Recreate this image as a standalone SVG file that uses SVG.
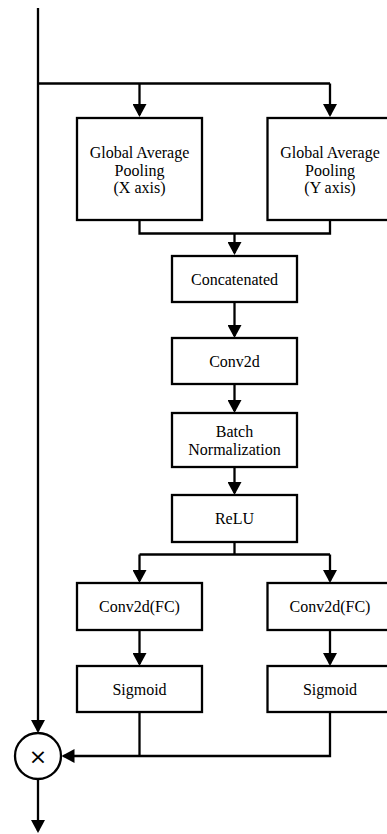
<svg xmlns="http://www.w3.org/2000/svg" width="387" height="834" viewBox="0 0 387 834">
  <style>
    .box { fill: #ffffff; stroke: #000000; stroke-width: 2.3; }
    .wire { fill: none; stroke: #000000; stroke-width: 2.3; }
    .lbl { font-family: "Liberation Serif", "Times New Roman", serif; font-size: 16px; fill: #000000; text-anchor: middle; }
    .op { font-family: "DejaVu Sans", "Liberation Sans", sans-serif; font-size: 22px; fill: #000000; text-anchor: middle; }
  </style>
  <defs>
    <marker id="head" viewBox="0 0 13 14" markerWidth="13" markerHeight="14" markerUnits="userSpaceOnUse" refX="11" refY="7" orient="auto">
      <path d="M0,0 L13,7 L0,14 Z" fill="#000000"/>
    </marker>
  </defs>
  <rect width="387" height="834" fill="#ffffff"/>

  <!-- connectors -->
  <g id="connectors">
    <path class="wire" d="M38,8 V731" marker-end="url(#head)"/>
    <path class="wire" d="M38,83.5 H330"/>
    <path class="wire" d="M139.5,83.5 V115" marker-end="url(#head)"/>
    <path class="wire" d="M330,83.5 V115" marker-end="url(#head)"/>
    <path class="wire" d="M139.5,220 V233.5 H330 V220"/>
    <path class="wire" d="M234.5,233.5 V253" marker-end="url(#head)"/>
    <path class="wire" d="M234.5,302 V336" marker-end="url(#head)"/>
    <path class="wire" d="M234.5,384 V411" marker-end="url(#head)"/>
    <path class="wire" d="M234.5,467 V493" marker-end="url(#head)"/>
    <path class="wire" d="M234.5,542 V554.5"/>
    <path class="wire" d="M139.5,554.5 H330"/>
    <path class="wire" d="M139.5,554.5 V581" marker-end="url(#head)"/>
    <path class="wire" d="M330,554.5 V581" marker-end="url(#head)"/>
    <path class="wire" d="M139.5,630 V664" marker-end="url(#head)"/>
    <path class="wire" d="M330,630 V664" marker-end="url(#head)"/>
    <path class="wire" d="M330,712 V756 H63.5" marker-end="url(#head)"/>
    <path class="wire" d="M139.5,712 V756"/>
    <path class="wire" d="M38,779 V831" marker-end="url(#head)"/>
  </g>

  <!-- nodes -->
  <g id="gap-x">
    <rect class="box" x="77" y="118" width="125" height="102"/>
    <text class="lbl" x="139.5" y="157.5">Global Average</text>
    <text class="lbl" x="139.5" y="175.5">Pooling</text>
    <text class="lbl" x="139.5" y="193">(X axis)</text>
  </g>
  <g id="gap-y">
    <rect class="box" x="267.5" y="118" width="125" height="102"/>
    <text class="lbl" x="330" y="157.5">Global Average</text>
    <text class="lbl" x="330" y="175.5">Pooling</text>
    <text class="lbl" x="330" y="193">(Y axis)</text>
  </g>
  <g id="concat">
    <rect class="box" x="172" y="256" width="125" height="46"/>
    <text class="lbl" x="234.5" y="284.5">Concatenated</text>
  </g>
  <g id="conv2d">
    <rect class="box" x="172" y="338" width="125" height="46"/>
    <text class="lbl" x="234.5" y="366.5">Conv2d</text>
  </g>
  <g id="batchnorm">
    <rect class="box" x="172" y="413" width="125" height="54"/>
    <text class="lbl" x="234.5" y="436.5">Batch</text>
    <text class="lbl" x="234.5" y="454.5">Normalization</text>
  </g>
  <g id="relu">
    <rect class="box" x="172" y="495" width="125" height="47"/>
    <text class="lbl" x="234.5" y="523.5">ReLU</text>
  </g>
  <g id="fc-x">
    <rect class="box" x="77" y="583" width="125" height="47"/>
    <text class="lbl" x="139.5" y="612">Conv2d(FC)</text>
  </g>
  <g id="fc-y">
    <rect class="box" x="267.5" y="583" width="125" height="47"/>
    <text class="lbl" x="330" y="612">Conv2d(FC)</text>
  </g>
  <g id="sigmoid-x">
    <rect class="box" x="77" y="666" width="125" height="46"/>
    <text class="lbl" x="139.5" y="694.5">Sigmoid</text>
  </g>
  <g id="sigmoid-y">
    <rect class="box" x="267.5" y="666" width="125" height="46"/>
    <text class="lbl" x="330" y="694.5">Sigmoid</text>
  </g>
  <g id="multiply">
    <circle class="box" cx="38" cy="756" r="23"/>
    <text class="op" x="38" y="763.5">×</text>
  </g>
</svg>
